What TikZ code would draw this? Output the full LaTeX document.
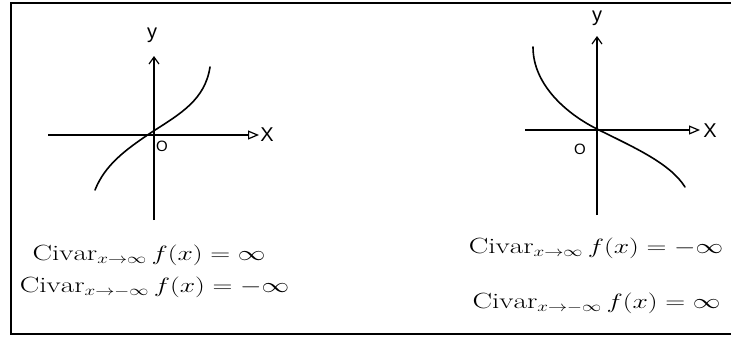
\documentclass[tikz,border=0pt]{standalone}
\usepackage{graphicx}
\usepackage{fontspec}
\newfontfamily\lblfont{Liberation Sans}
\usetikzlibrary{arrows.meta}
\newcommand{\eqwide}[1]{\scalebox{1.33}[1]{#1}}
\begin{document}
\begin{tikzpicture}[x=1pt,y=-1pt,
  frame/.style={line width=2pt},
  axis/.style={line width=1.3pt},
  xarrow/.style={axis,-{Triangle[open,length=11pt,width=9pt,line width=1.2pt]}},
  yarrow/.style={axis,-{Straight Barb[length=7pt,width=10pt,line width=1.2pt]}},
  curve/.style={line width=1.6pt,line cap=round},
  lbl/.style={font=\lblfont\fontsize{20}{20}\selectfont,inner sep=0pt},
  orig/.style={font=\lblfont\fontsize{15}{15}\selectfont,inner sep=0pt},
  eq/.style={font=\fontsize{22}{22}\selectfont,inner sep=0pt}]
\useasboundingbox (0,0) rectangle (731,338);
\draw[frame] (731,3) -- (10.5,3) -- (10.5,334) -- (731,334);
% left graph
\coordinate (lxs) at (48,135);
\coordinate (lys) at (154,220);
\node[lbl] (lx) at (267,135) {X};
\node[lbl] (ly) at (152,35) {y};
\coordinate (lxe) at (259,135);
\coordinate (lye) at (154,56);
\node[orig] (lo) at (162,146) {O};
\draw[xarrow] (lxs) -- (lxe);
\draw[yarrow] (lys) -- (lye);
\draw[curve] (95,190) .. controls (105,165) and (125,150) .. (152,132) .. controls (180,114) and (205,100) .. (210,67);
% right graph
\coordinate (rxs) at (525,130);
\coordinate (rys) at (597,215);
\node[lbl] (rx) at (710,131) {X};
\node[lbl] (ry) at (597,18) {y};
\coordinate (rxe) at (700,130);
\coordinate (rye) at (597,36);
\node[orig] (ro) at (580,149) {O};
\draw[xarrow] (rxs) -- (rxe);
\draw[yarrow] (rys) -- (rye);
\draw[curve] (533,47) .. controls (533,85) and (567,114) .. (597,129) .. controls (633,147) and (670,163) .. (685,187);
% equations
\node[eq] (l1) at (149,255) {\eqwide{$\mathrm{Civar}_{x\to\infty}\, f(x) = \infty$}};
\node[eq] (l2) at (154.5,287) {\eqwide{$\mathrm{Civar}_{x\to-\infty}\, f(x) = -\infty$}};
\node[eq] (r1) at (596,248) {\eqwide{$\mathrm{Civar}_{x\to\infty}\, f(x) = -\infty$}};
\node[eq] (r2) at (596.5,303) {\eqwide{$\mathrm{Civar}_{x\to-\infty}\, f(x) = \infty$}};
\end{tikzpicture}
\end{document}
